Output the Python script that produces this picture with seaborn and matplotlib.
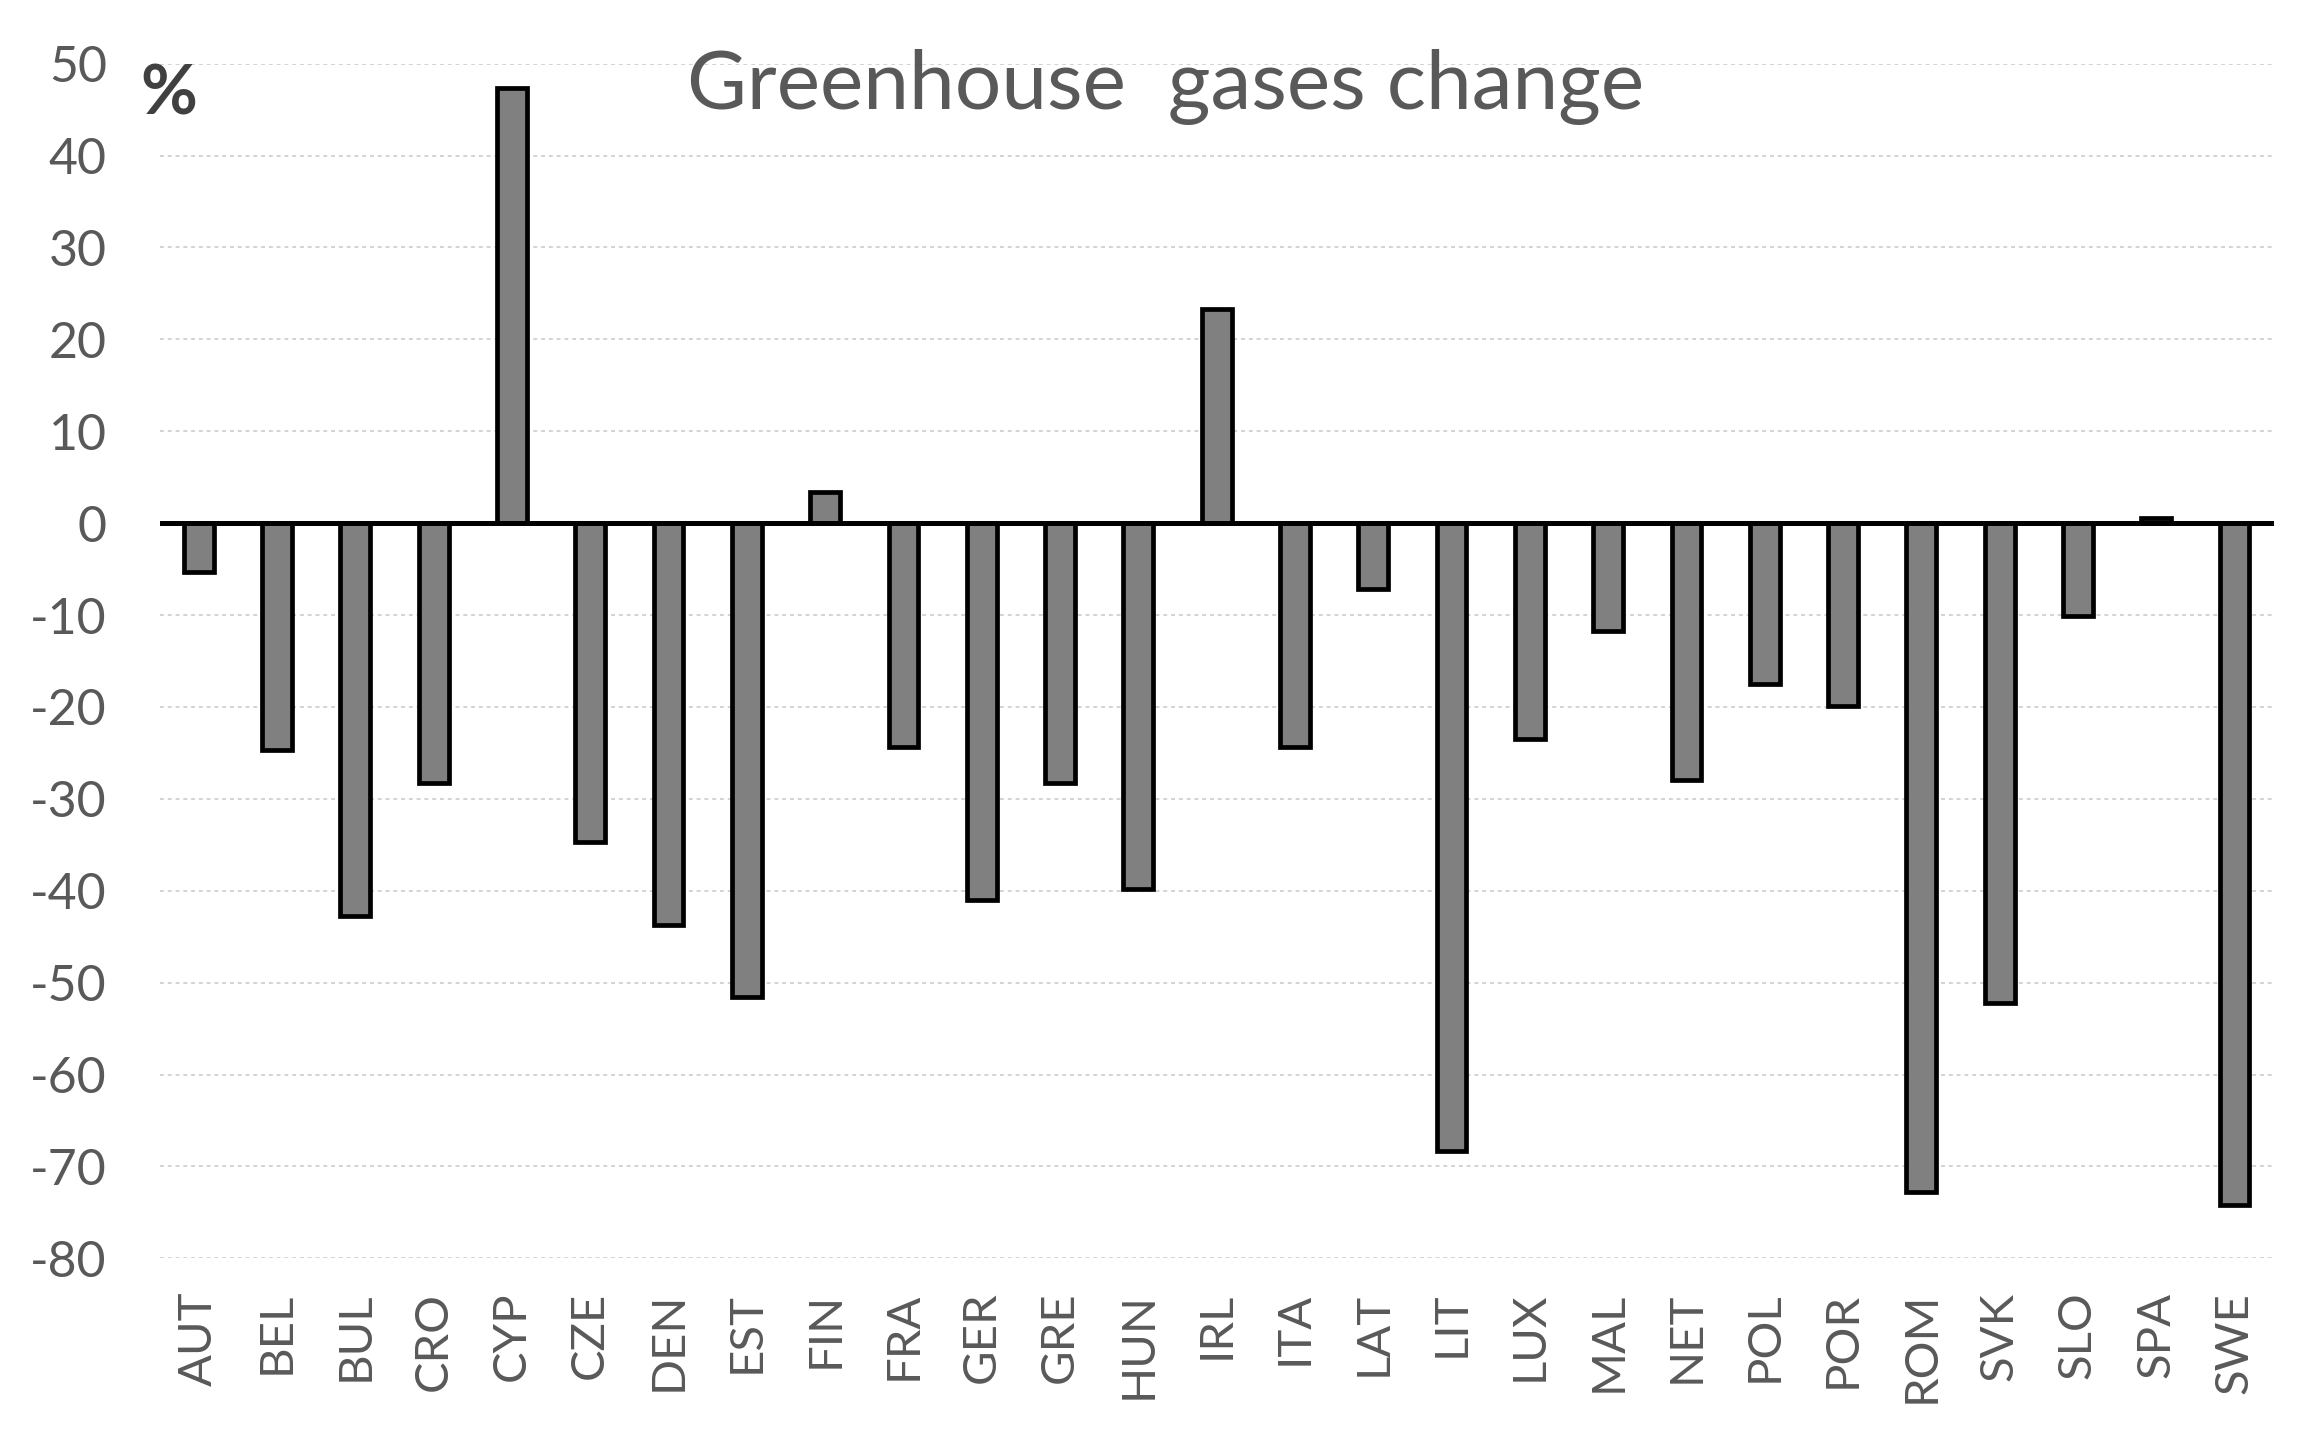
import matplotlib
matplotlib.use("Agg")
import matplotlib.pyplot as plt
import seaborn as sns
import pandas as pd

countries = ["AUT", "BEL", "BUL", "CRO", "CYP", "CZE", "DEN", "EST", "FIN", "FRA",
             "GER", "GRE", "HUN", "IRL", "ITA", "LAT", "LIT", "LUX", "MAL", "NET",
             "POL", "POR", "ROM", "SVK", "SLO", "SPA", "SWE"]
change = [-5.3, -24.7, -42.7, -28.3, 47.4, -34.7, -43.7, -51.6, 3.4, -24.4,
          -41.0, -28.3, -39.8, 23.3, -24.4, -7.2, -68.3, -23.5, -11.7, -28.0,
          -17.5, -19.9, -72.8, -52.2, -10.1, 0.6, -74.2]
yticks = list(range(-80, 51, 10))

sns.set_theme(style="white")
plt.rcParams['font.family'] = ['Lato', 'DejaVu Sans']

df = pd.DataFrame({"country": countries, "change": change})

fig = plt.figure(figsize=(23.13, 14.48), dpi=100)
ax = fig.add_axes([0.069, 0.131, 0.914, 0.825])

sns.barplot(data=df, x="country", y="change", color="#808080", saturation=1,
            edgecolor="black", linewidth=3.4, width=0.38, ax=ax, zorder=3)

ax.set_xlim(-0.5, len(countries) - 0.5)
ax.set_ylim(-80, 50)
ax.set_yticks(yticks)
ax.set_yticklabels([str(v) for v in yticks])
for v in yticks:
    if v != 0:
        ax.axhline(v, color="#d3d3d3", linestyle=(0, (2, 2)), linewidth=1.4, zorder=1)
ax.axhline(0, color="black", linewidth=3.6, zorder=4)

for s in ax.spines.values():
    s.set_visible(False)

ax.tick_params(axis="y", labelsize=36, labelcolor="#595959", length=0, pad=38)
ax.tick_params(axis="x", labelsize=34, labelcolor="#595959", length=0, pad=24,
               labelrotation=90)
ax.set_xlabel("")
ax.set_ylabel("")

ax.text(0.476, 1.012, "Greenhouse  gases change", transform=ax.transAxes,
        ha="center", va="top", fontsize=59, color="#595959")
ax.text(-0.009, 1.0, "%", transform=ax.transAxes, ha="left", va="top",
        fontsize=50, fontweight="bold", color="#404040")

fig.savefig("out.png", dpi=100, facecolor="white")
